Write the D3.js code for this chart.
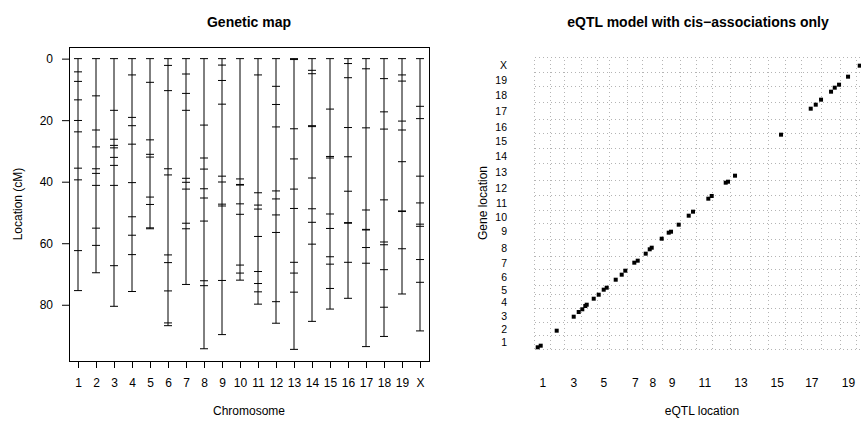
<!DOCTYPE html>
<html>
<head>
<meta charset="utf-8">
<script src="https://cdn.jsdelivr.net/npm/d3@7"></script>
<style>
  body { margin: 0; background: #fff; }
  svg { font-family: "Liberation Sans", Arial, sans-serif; }
  .tick text { font-size: 12px; fill: #000; }
  .tick line { stroke: #000; }
  .ylab .tick text { font-size: 10.5px; }
</style>
</head>
<body>
<svg id="chart" width="861" height="422" viewBox="0 0 861 422"></svg>
<script>
// chromosome names
const chrNames = ["1","2","3","4","5","6","7","8","9","10","11","12","13","14","15","16","17","18","19","X"]

// marker positions (cM) per chromosome
const mapPositions = [
  [0, 4.3, 7.4, 13.4, 20.1, 23.8, 35.6, 39.4, 62.4, 75.4],
  [0, 12.1, 23.2, 28.7, 35.8, 37.3, 41.2, 55.1, 60.7, 69.6],
  [0, 16.8, 26.2, 28.2, 29.0, 32.1, 34.7, 41.2, 67.3, 80.5],
  [0, 5.3, 19.1, 21.8, 27.8, 40.3, 51.4, 57.4, 63.7, 75.7],
  [0, 7.7, 26.4, 31.1, 32.0, 45.0, 47.4, 55.0, 55.3],
  [0, 2.2, 10.4, 35.8, 37.8, 63.8, 66.3, 75.5, 85.9, 86.8],
  [0, 5.0, 11.3, 16.8, 38.9, 40.2, 42.4, 53.5, 55.3, 73.4],
  [0, 21.6, 32.3, 35.9, 42.3, 45.3, 52.8, 72.2, 73.8, 94.3],
  [0, 2.1, 7.1, 14.8, 38.2, 40.1, 47.3, 47.9, 72.1, 89.7],
  [0, 39.1, 40.9, 41.1, 47.2, 50.6, 67.1, 69.7, 72.0],
  [0, 5.3, 43.6, 47.6, 48.9, 57.8, 69.2, 73.1, 75.8, 79.8],
  [0, 9.0, 14.9, 22.2, 43.0, 45.6, 50.8, 56.5, 79.0, 86.0],
  [0, 0.3, 22.8, 32.6, 42.4, 48.7, 66.2, 69.7, 75.9, 94.5],
  [0, 3.8, 4.9, 21.8, 22.1, 38.8, 48.8, 53.2, 60.3, 85.4],
  [0, 16.4, 31.8, 32.3, 50.5, 55.2, 64.4, 66.8, 74.7, 81.4],
  [0, 1.6, 6.2, 22.4, 31.9, 43.1, 53.3, 53.5, 66.2, 77.9],
  [0, 3.3, 22.5, 49.2, 55.5, 55.7, 61.4, 66.5, 93.6],
  [0, 6.5, 17.3, 22.9, 45.9, 59.6, 60.5, 68.6, 80.8, 90.3],
  [0, 5.3, 7.3, 20.3, 23.2, 33.5, 49.5, 49.7, 61.8, 76.5],
  [0, 15.5, 19.5, 38.2, 46.9, 53.8, 54.5, 65.3, 72.7, 88.5]
]

const mapTicks = [0, 20, 40, 60, 80]

// cis-eQTL: chromosome index (1..20) + position of eQTL and of the gene
const eqtlChr = [1,1,2,3,3,4,4,4,4,5,5,5,6,6,6,7,7,8,8,8,8,9,9,9,10,10,11,11,12,12,13,15,17,17,17,18,18,18,19,20]
const eqtlPos = [15.3,29.7,30.8,42.6,66.5,3.2,17.5,24.3,57.8,6.0,29.9,44.3,32.0,60.7,77.9,34.2,50.5,15.3,34.5,44.1,91.9,31.1,42.1,79.0,37.1,57.7,58.9,75.1,62.3,73.3,20.8,61.0,43.8,67.8,93.1,47.4,65.1,85.7,38.4,17.9]
const geneChr = [1,1,2,3,3,3,4,4,4,5,5,5,6,6,6,7,7,8,8,8,9,9,9,9,10,10,11,11,12,12,13,15,17,17,18,18,18,19,19,20]
const genePos = [9.5,18.4,26.6,35.0,61.0,76.2,14.1,21.3,54.7,1.3,29.2,40.3,29.5,57.5,79.7,37.5,48.7,14.3,38.7,47.6,3.5,37.0,42.5,81.5,41.9,64.3,64.6,79.7,74.0,79.5,27.0,75.5,61.0,83.3,17.6,62.1,84.4,10.8,55.4,40.2]

// only these chromosome labels fit under the eQTL panel
const eqtlXLabels = ["1","3","5","7","8","9","11","13","15","17","19"]

const svg = d3.select("#chart")

// ---------- left panel: genetic map ----------
const lengths = mapPositions.map(d => d3.max(d))
const maxLen = d3.max(lengths)
const pad = maxLen * 0.04

const x = d3.scaleLinear().domain([0.5, 20.5]).range([69, 429])
const y = d3.scaleLinear().domain([-pad, maxLen + pad]).range([47, 361])

const left = svg.append("g")

const chrG = left.selectAll(".chr")
    .data(mapPositions)
    .enter()
    .append("g")
    .attr("class", "chr")

chrG.append("line")
    .attr("x1", (d, i) => x(i + 1))
    .attr("x2", (d, i) => x(i + 1))
    .attr("y1", y(0))
    .attr("y2", d => y(d3.max(d)))
    .attr("stroke", "#000")

chrG.each(function (d, i) {
    d3.select(this).selectAll(".mk")
        .data(d)
        .enter()
        .append("line")
        .attr("class", "mk")
        .attr("x1", x(i + 1) - 4)
        .attr("x2", x(i + 1) + 4)
        .attr("y1", p => y(p))
        .attr("y2", p => y(p))
        .attr("stroke", "#000")
})

left.append("rect")
    .attr("x", 69).attr("y", 47)
    .attr("width", 360).attr("height", 314)
    .attr("fill", "none").attr("stroke", "#000")
    .attr("shape-rendering", "crispEdges")

left.append("g")
    .attr("transform", "translate(0,361)")
    .call(d3.axisBottom(x).tickValues(d3.range(1, 21)).tickFormat(i => chrNames[i - 1]).tickSize(7).tickPadding(10))
    .call(g => g.select(".domain").remove())

left.append("g")
    .attr("transform", "translate(69,0)")
    .call(d3.axisLeft(y).tickValues(mapTicks).tickSize(7).tickPadding(9))
    .call(g => g.select(".domain").remove())

left.append("text")
    .attr("x", 249).attr("y", 27)
    .attr("text-anchor", "middle")
    .attr("font-size", 14).attr("font-weight", "bold")
    .text("Genetic map")

left.append("text")
    .attr("x", 249).attr("y", 415)
    .attr("text-anchor", "middle")
    .attr("font-size", 12)
    .text("Chromosome")

left.append("text")
    .attr("transform", "translate(22,204) rotate(-90)")
    .attr("text-anchor", "middle")
    .attr("font-size", 12)
    .text("Location (cM)")

// ---------- right panel: eQTL vs gene location ----------
const starts = [0]
lengths.forEach((l, i) => starts.push(starts[i] + l))
const total = starts[starts.length - 1]
const centers = lengths.map((l, i) => starts[i] + l / 2)

const xr = d3.scaleLinear().domain([0, total]).range([534.5, 874.5])
const yr = d3.scaleLinear().domain([0, total]).range([349, 57])

const right = svg.append("g")

// dotted grid at chromosome boundaries
right.selectAll(".vgrid")
    .data(starts)
    .enter()
    .append("line")
    .attr("x1", d => xr(d)).attr("x2", d => xr(d))
    .attr("y1", yr(0)).attr("y2", yr(total))
    .attr("stroke", "#b4b4b4")
    .attr("stroke-dasharray", "1,3")
    .attr("shape-rendering", "crispEdges")

right.selectAll(".hgrid")
    .data(starts)
    .enter()
    .append("line")
    .attr("x1", xr(0)).attr("x2", xr(total))
    .attr("y1", d => yr(d)).attr("y2", d => yr(d))
    .attr("stroke", "#b4b4b4")
    .attr("stroke-dasharray", "1,3")
    .attr("shape-rendering", "crispEdges")

right.selectAll(".pt")
    .data(eqtlChr)
    .enter()
    .append("rect")
    .attr("x", (c, i) => xr(starts[c - 1] + eqtlPos[i]) - 2)
    .attr("y", (c, i) => yr(starts[geneChr[i] - 1] + genePos[i]) - 2)
    .attr("width", 4).attr("height", 4)
    .attr("fill", "#000")

right.append("g")
    .attr("transform", "translate(0,361)")
    .call(d3.axisBottom(xr)
        .tickValues(eqtlXLabels.map(n => centers[chrNames.indexOf(n)]))
        .tickFormat((d, i) => eqtlXLabels[i])
        .tickSize(0).tickPadding(17))
    .call(g => g.select(".domain").remove())

right.append("g")
    .attr("class", "ylab")
    .attr("transform", "translate(507,0)")
    .call(d3.axisLeft(yr).tickValues(centers).tickFormat((d, i) => chrNames[i]).tickSize(0).tickPadding(0))
    .call(g => g.select(".domain").remove())

right.append("text")
    .attr("x", 698).attr("y", 27)
    .attr("text-anchor", "middle")
    .attr("font-size", 14).attr("font-weight", "bold")
    .text("eQTL model with cis\u2212associations only")

right.append("text")
    .attr("x", 702).attr("y", 415)
    .attr("text-anchor", "middle")
    .attr("font-size", 12)
    .text("eQTL location")

right.append("text")
    .attr("transform", "translate(487,203) rotate(-90)")
    .attr("text-anchor", "middle")
    .attr("font-size", 12)
    .text("Gene location")
</script>
</body>
</html>
